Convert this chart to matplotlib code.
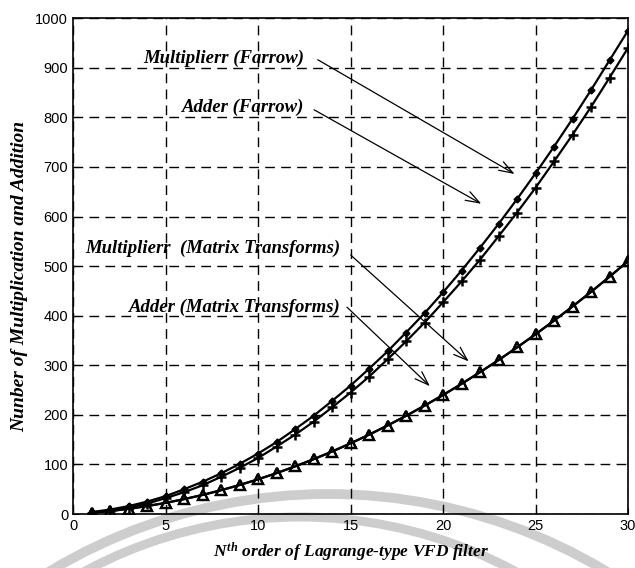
import matplotlib
matplotlib.use("Agg")
from matplotlib import pyplot as plt
from matplotlib.patches import Arc

plt.rcParams['mathtext.fontset'] = 'custom'
plt.rcParams['mathtext.it'] = 'Liberation Serif:italic:bold'
plt.rcParams['mathtext.rm'] = 'Liberation Serif:bold'

# filter order
order = list(range(1, 31))

# operation counts
mult_farrow = [4, 9, 16, 25, 36, 50, 65, 82, 101, 122, 145, 171, 198, 228, 259,
               293, 328, 366, 405, 447, 491, 537, 585, 635, 687, 741, 797, 855, 915, 975]
add_farrow = [2, 7, 13, 21, 32, 44, 58, 75, 93, 113, 136, 160, 186, 215, 245,
              277, 312, 348, 386, 427, 469, 513, 560, 608, 658, 711, 765, 821, 880, 940]
mult_matrix = [2.5, 6, 10.5, 16, 22.5, 30, 38.5, 48, 58.5, 70, 82.5, 96, 110.5, 126, 142.5,
               160, 178.5, 198, 218.5, 240, 262.5, 286, 310.5, 336, 362.5, 390, 418.5, 448, 478.5, 510]
add_matrix = [2.5, 6, 10.5, 16, 22.5, 30, 38.5, 48, 58.5, 70, 82.5, 96, 110.5, 126, 142.5,
              160, 178.5, 198, 218.5, 240, 262.5, 286, 310.5, 336, 362.5, 390, 418.5, 448, 478.5, 510]

# annotation texts: (label, text position, arrow start, arrow tip)
notes = [
    ("Multiplierr (Farrow)", (3.8, 919), (13.1, 919), (24.0, 683)),
    ("Adder (Farrow)", (5.9, 820), (12.9, 818), (22.2, 623)),
    ("Multiplierr  (Matrix Transforms)", (0.65, 536), (14.9, 526), (21.5, 304)),
    ("Adder (Matrix Transforms)", (3.0, 417), (14.7, 421), (19.4, 254)),
]

fig = plt.figure(figsize=(6.35, 5.68), dpi=100)

# faint watermark arcs at the bottom of the scan (behind everything)
W, H = 635.0, 568.0
for cx, cy, r, lw in [(328, 1034, 540, 7), (300, 971, 454, 6.5)]:
    fig.add_artist(Arc((cx / W, 1 - cy / H), 2 * r / W, 2 * r / H,
                       theta1=0, theta2=180, transform=fig.transFigure,
                       color="#cdcdcd", lw=lw, zorder=-1))

ax = fig.add_axes([0.115, 0.095, 0.874, 0.873])
ax.patch.set_alpha(0)

ax.plot(order, mult_farrow, color="black", lw=1.6, marker="D", ms=3.5)
ax.plot(order, add_farrow, color="black", lw=1.6, marker="+", ms=7, mew=1.8)
ax.plot(order, mult_matrix, color="black", lw=1.6, marker="^", ms=7,
        mfc="none", mew=1.6)
ax.plot(order, add_matrix, color="black", lw=1.6, marker="^", ms=7,
        mfc="none", mew=1.6)

ax.set_xlim(0, 30)
ax.set_ylim(0, 1000)
ax.set_xticks([0, 5, 10, 15, 20, 25, 30])
ax.set_yticks(range(0, 1001, 100))
ax.grid(True, color="black", linestyle=(0, (7, 4.5)), linewidth=1.0)
ax.tick_params(direction="in", length=4, labelsize=10.5)
for lab in ax.get_xticklabels() + ax.get_yticklabels():
    lab.set_family("Liberation Sans")
for sp in ax.spines.values():
    sp.set_linewidth(1.2)

serif = dict(family="Liberation Serif", weight="bold", style="italic")
for text, pos, start, tip in notes:
    ax.text(pos[0], pos[1], text, fontsize=13.5, va="center", ha="left", **serif)
    ax.annotate("", xy=tip, xytext=start,
                arrowprops=dict(arrowstyle="->,head_length=1.0,head_width=0.35",
                                color="black", lw=0.9))

ax.set_xlabel(r"$N^{th}$ order of Lagrange-type VFD filter", fontsize=12.5,
              labelpad=6, **serif)
ax.set_ylabel("Nunber of Multiplication and Addition", fontsize=14, **serif)
ax.yaxis.set_label_coords(-0.08, 0.48)

plt.savefig("out.png", dpi=100)
